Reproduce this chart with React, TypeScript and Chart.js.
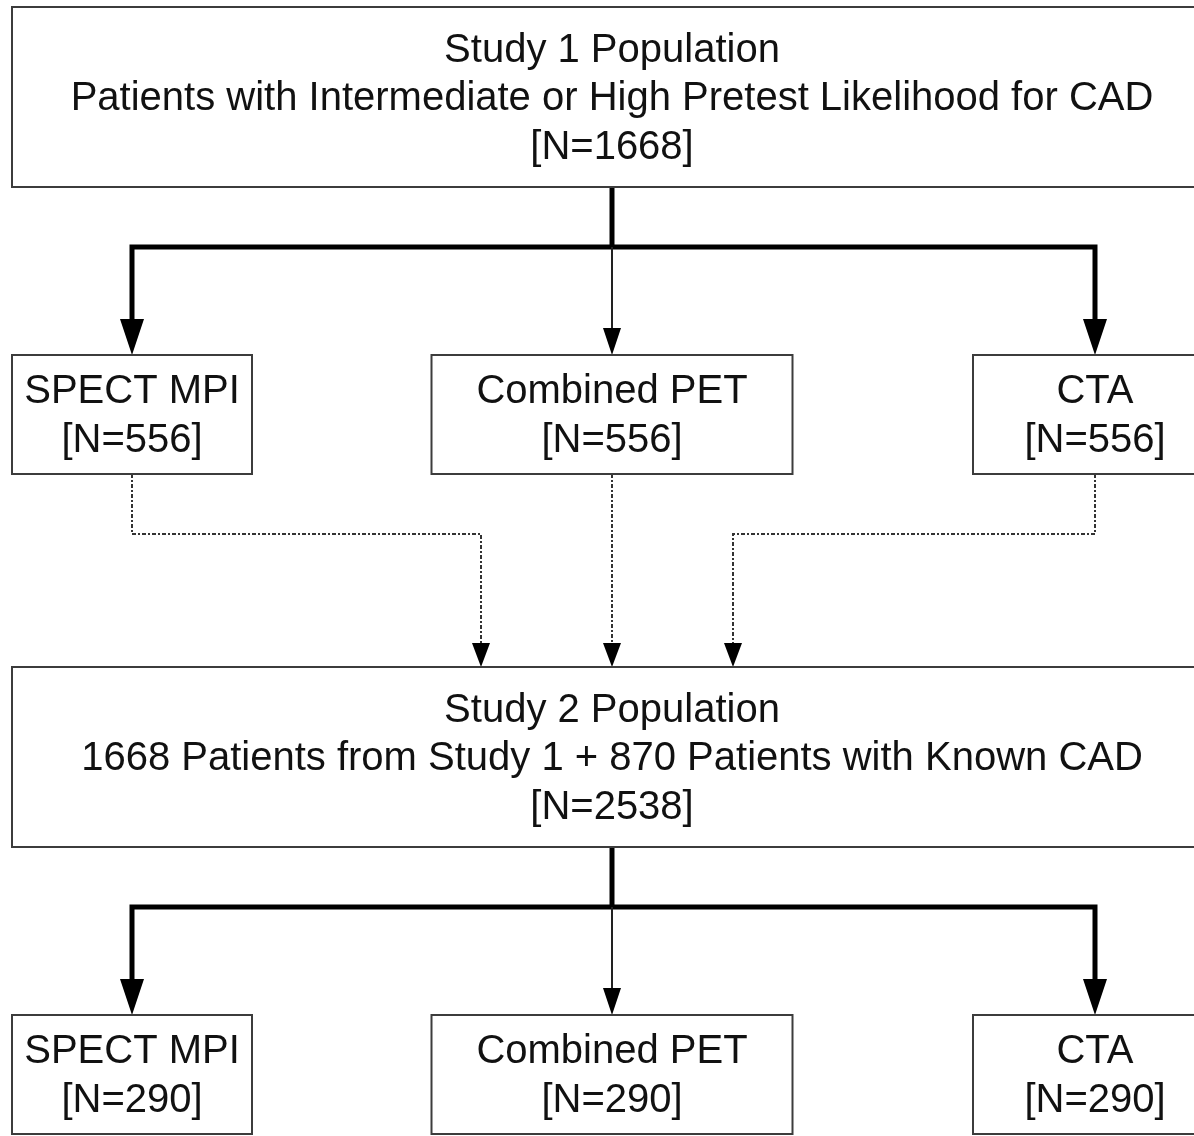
import React, { useEffect, useRef } from "react";
import { Chart, registerables } from "chart.js";

Chart.register(...registerables);

// ---- Data (text / counts) ----
const STUDY1_LINES = ["Study 1 Population", "Patients with Intermediate or High Pretest Likelihood for CAD"];
const STUDY1_N = [1668];
const MODALITIES = ["SPECT MPI", "Combined PET", "CTA"];
const STUDY1_ARM_N = [556, 556, 556];
const STUDY2_LINES = ["Study 2 Population", "1668 Patients from Study 1 + 870 Patients with Known CAD"];
const STUDY2_N = [2538];
const STUDY2_ARM_N = [290, 290, 290];

// ---- Layout (diagram coordinates, used through the chart scales) ----
const W = 1194;
const H = 1136;
const COL_X = [132, 612, 1095];
const ARM_W = [240, 361, 244];
const WIDE = { x0: 12, x1: 1212 };
const ROW = {
  top: { y0: 7, y1: 187 },
  arms1: { y0: 355, y1: 474 },
  study2: { y0: 667, y1: 847 },
  arms2: { y0: 1015, y1: 1134 },
};
const BRANCH1_Y = 247;
const BRANCH2_Y = 907;
const DOT_Y = 534;
const DOT_X = [481, 612, 733];
const LINE_GAP = 48.5;
const FONT = '40px "Liberation Sans", Arial, sans-serif';

export default function App() {
  const ref = useRef<HTMLCanvasElement | null>(null);

  useEffect(() => {
    document.body.style.margin = "0";
    document.body.style.overflow = "hidden";
    const canvas = ref.current!;

    const flowPlugin = {
      id: "flow",
      afterDraw(chart: any) {
        const ctx: CanvasRenderingContext2D = chart.ctx;
        const xs = chart.scales.x;
        const ys = chart.scales.y;
        const X = (v: number) => xs.getPixelForValue(v);
        const Y = (v: number) => ys.getPixelForValue(v);

        const box = (x0: number, y0: number, x1: number, y1: number) => {
          ctx.save();
          ctx.fillStyle = "#ffffff";
          ctx.strokeStyle = "#3c3c3c";
          ctx.lineWidth = 2;
          ctx.fillRect(X(x0), Y(y0), X(x1) - X(x0), Y(y1) - Y(y0));
          ctx.strokeRect(X(x0), Y(y0), X(x1) - X(x0), Y(y1) - Y(y0));
          ctx.restore();
        };
        const text = (lines: string[], cx: number, cy: number) => {
          ctx.save();
          ctx.font = FONT;
          ctx.fillStyle = "#111111";
          ctx.textAlign = "center";
          ctx.textBaseline = "alphabetic";
          const n = lines.length;
          lines.forEach((l, i) => {
            const yc = cy + (i - (n - 1) / 2) * LINE_GAP;
            ctx.fillText(l, X(cx), Y(yc) + 13);
          });
          ctx.restore();
        };
        const path = (pts: number[][], lw: number, dash: number[] = [], color = "#000000") => {
          ctx.save();
          ctx.strokeStyle = color;
          ctx.lineWidth = lw;
          ctx.lineJoin = "miter";
          ctx.lineCap = "butt";
          ctx.setLineDash(dash);
          ctx.beginPath();
          pts.forEach((p, i) => {
            if (i === 0) ctx.moveTo(X(p[0]), Y(p[1]));
            else ctx.lineTo(X(p[0]), Y(p[1]));
          });
          ctx.stroke();
          ctx.restore();
        };
        const head = (x: number, tipY: number, w: number, h: number) => {
          ctx.save();
          ctx.fillStyle = "#000000";
          ctx.beginPath();
          ctx.moveTo(X(x), Y(tipY));
          ctx.lineTo(X(x - w / 2), Y(tipY - h));
          ctx.lineTo(X(x + w / 2), Y(tipY - h));
          ctx.closePath();
          ctx.fill();
          ctx.restore();
        };

        const thickH = 36, thickW = 24, thinH = 27, thinW = 18, dotH = 24, dotW = 18;
        const drawTree = (fromY: number, branchY: number, toY: number) => {
          path([[COL_X[1], fromY], [COL_X[1], branchY]], 5);
          path([[COL_X[0], toY - thickH + 2], [COL_X[0], branchY], [COL_X[2], branchY], [COL_X[2], toY - thickH + 2]], 5);
          path([[COL_X[1], branchY], [COL_X[1], toY - thinH + 2]], 2, [], "#222222");
          head(COL_X[0], toY, thickW, thickH);
          head(COL_X[2], toY, thickW, thickH);
          head(COL_X[1], toY, thinW, thinH);
        };
        drawTree(ROW.top.y1, BRANCH1_Y, ROW.arms1.y0);
        drawTree(ROW.study2.y1, BRANCH2_Y, ROW.arms2.y0);

        // Dotted connectors
        const dash = [4, 2, 2, 2];
        const dc = "#333333";
        path([[COL_X[0], ROW.arms1.y1], [COL_X[0], DOT_Y], [DOT_X[0], DOT_Y], [DOT_X[0], ROW.study2.y0 - dotH + 2]], 2, dash, dc);
        path([[COL_X[1], ROW.arms1.y1], [DOT_X[1], ROW.study2.y0 - dotH + 2]], 2, dash, dc);
        path([[COL_X[2], ROW.arms1.y1], [COL_X[2], DOT_Y], [DOT_X[2], DOT_Y], [DOT_X[2], ROW.study2.y0 - dotH + 2]], 2, dash, dc);
        DOT_X.forEach((x) => head(x, ROW.study2.y0, dotW, dotH));

        // Boxes
        box(WIDE.x0, ROW.top.y0, WIDE.x1, ROW.top.y1);
        text([...STUDY1_LINES, `[N=${STUDY1_N[0]}]`], (WIDE.x0 + WIDE.x1) / 2, (ROW.top.y0 + ROW.top.y1) / 2);
        box(WIDE.x0, ROW.study2.y0, WIDE.x1, ROW.study2.y1);
        text([...STUDY2_LINES, `[N=${STUDY2_N[0]}]`], (WIDE.x0 + WIDE.x1) / 2, (ROW.study2.y0 + ROW.study2.y1) / 2);

        const arms = (row: { y0: number; y1: number }, counts: number[]) => {
          MODALITIES.forEach((m, i) => {
            const cx = COL_X[i];
            box(cx - ARM_W[i] / 2, row.y0, cx + ARM_W[i] / 2, row.y1);
            text([m, `[N=${counts[i]}]`], cx, (row.y0 + row.y1) / 2);
          });
        };
        arms(ROW.arms1, STUDY1_ARM_N);
        arms(ROW.arms2, STUDY2_ARM_N);
      },
    };

    const chart = new Chart(canvas, {
      type: "scatter",
      data: {
        datasets: [
          {
            label: "nodes",
            data: COL_X.map((x) => ({ x, y: (ROW.arms1.y0 + ROW.arms1.y1) / 2 })),
            pointRadius: 0,
            showLine: false,
          },
        ],
      },
      options: {
        animation: false,
        responsive: false,
        maintainAspectRatio: false,
        layout: { padding: 0 },
        events: [],
        plugins: { legend: { display: false }, tooltip: { enabled: false } },
        scales: {
          x: { type: "linear", min: 0, max: W, display: false },
          y: { type: "linear", min: 0, max: H, reverse: true, display: false },
        },
      },
      plugins: [flowPlugin],
    });
    return () => chart.destroy();
  }, []);

  return (
    <div style={{ width: W, height: H, background: "#fff" }}>
      <canvas ref={ref} width={W} height={H} style={{ display: "block", width: W, height: H }} />
    </div>
  );
}
